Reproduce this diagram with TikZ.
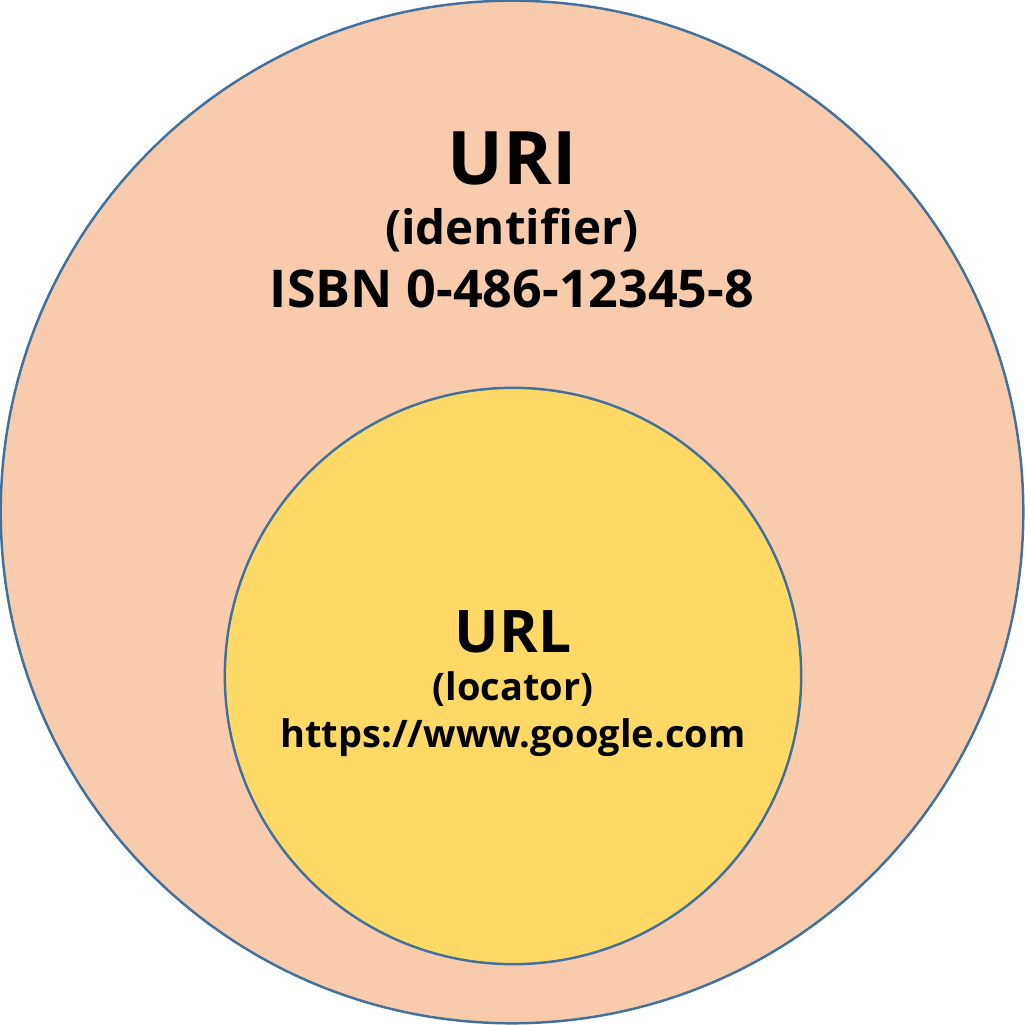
\documentclass[tikz,border=0pt]{standalone}
\usepackage{fontspec}
\setmainfont{Open Sans}
\usepackage{tikz}
\usetikzlibrary{positioning}
\definecolor{urifill}{HTML}{F8CBAD}
\definecolor{urlfill}{HTML}{FFD966}
\definecolor{ringline}{HTML}{41719C}
\begin{document}
\begin{tikzpicture}[
                          x=0.01cm,
                          y=-0.01cm,
                          ring/.style={circle, draw=ringline, line width=0.7pt, inner sep=0pt},
                          label/.style={anchor=base, inner sep=0pt, font=\bfseries}]
                      \useasboundingbox (0,0) rectangle (1025,1025);
                      \node[ring, fill=urifill, minimum size=10.22cm] (uri) at (512,512) {};
                      \node[ring, fill=urlfill, minimum size=5.76cm] (url) at (513,676) {};
                      % outer set
                      \node[label, font=\bfseries\fontsize{21}{25}\selectfont] (uri_name) at (512,185) {URI};
                      \node[label, font=\bfseries\fontsize{13.5}{16}\selectfont] (uri_kind) at (512,245) {(identifier)};
                      \node[label, font=\bfseries\fontsize{14.8}{18}\selectfont] (uri_ex) at (512,308) {ISBN 0-486-12345-8};
                      % inner set
                      \node[label, font=\bfseries\fontsize{16.7}{20}\selectfont] (url_name) at (513,652) {URL};
                      \node[label, font=\bfseries\fontsize{10.8}{13}\selectfont] (url_kind) at (513,700) {(locator)};
                      \node[label, font=\bfseries\fontsize{10.8}{13}\selectfont] (url_ex) at (513,747) {https://www.google.com};
                  \end{tikzpicture}
\end{document}
